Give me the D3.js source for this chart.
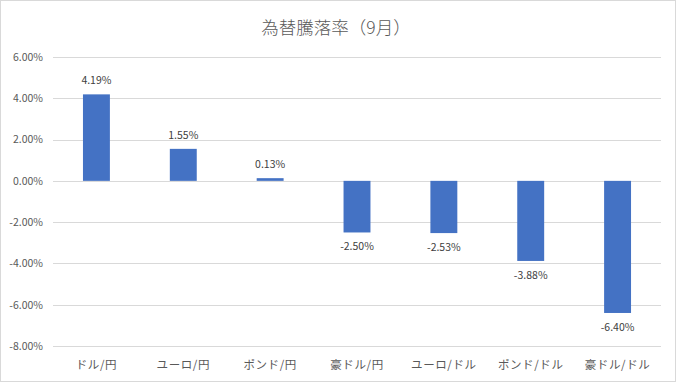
<!DOCTYPE html>
<html><head><meta charset="utf-8">
<script src="https://cdn.jsdelivr.net/npm/d3@7"></script>
<style>body{margin:0;background:#fff}svg{display:block}text{font-family:"Noto Sans CJK JP","Noto Sans",sans-serif}</style>
</head><body><svg id="c" width="676" height="382"></svg>
<script>
const categories = ["ドル/円","ユーロ/円","ポンド/円","豪ドル/円","ユーロ/ドル","ポンド/ドル","豪ドル/ドル"];
const values = [4.19, 1.55, 0.13, -2.50, -2.53, -3.88, -6.40];
const yTicks = [6, 4, 2, 0, -2, -4, -6, -8];
const title = "為替騰落率（9月）";

const svg = d3.select("#c");
svg.append("rect").attr("x",0.5).attr("y",0.5).attr("width",675).attr("height",381)
  .attr("fill","#fff").attr("stroke","#d9d9d9");
svg.append("text").attr("x",336).attr("y",34).attr("text-anchor","middle")
  .attr("font-size",17.5).attr("font-weight",300).attr("fill","#595959").text(title);

const x = d3.scaleBand().domain(categories).range([53,661]).paddingInner(0.69).paddingOuter(0.345);
const y = d3.scaleLinear().domain([-8,6]).range([346,57]);

const grid = svg.append("g");
grid.selectAll("line").data(yTicks).join("line")
  .attr("x1",53).attr("x2",661).attr("y1",d=>Math.round(y(d))+0.5).attr("y2",d=>Math.round(y(d))+0.5)
  .attr("stroke","#d9d9d9");

const yAxis = svg.append("g").attr("transform","translate(53,0)")
  .call(d3.axisLeft(y).tickValues(yTicks).tickSize(0).tickPadding(10).tickFormat(d=>d.toFixed(2)+"%"));
yAxis.select(".domain").remove();
yAxis.selectAll("text").attr("font-size",10.5).attr("fill","#595959").attr("font-family","Noto Sans CJK JP, sans-serif");

svg.append("g").selectAll("rect").data(values).join("rect")
  .attr("x",(d,i)=>x(categories[i])).attr("width",x.bandwidth())
  .attr("y",d=>y(Math.max(0,d))).attr("height",d=>Math.abs(y(d)-y(0)))
  .attr("fill","#4472c4");

svg.append("g").selectAll("text").data(values).join("text")
  .attr("x",(d,i)=>x(categories[i])+x.bandwidth()/2)
  .attr("y",d=> d>=0 ? y(d)-10 : y(d)+18)
  .attr("text-anchor","middle").attr("font-size",10.5).attr("fill","#404040")
  .text(d=>d.toFixed(2)+"%");

const xAxis = svg.append("g").attr("transform","translate(0,346)")
  .call(d3.axisBottom(x).tickSize(0).tickPadding(15));
xAxis.select(".domain").remove();
xAxis.selectAll("text").attr("font-size",11.5).attr("letter-spacing",0.6).attr("fill","#595959").attr("font-family","Noto Sans CJK JP, sans-serif");
</script></body></html>
